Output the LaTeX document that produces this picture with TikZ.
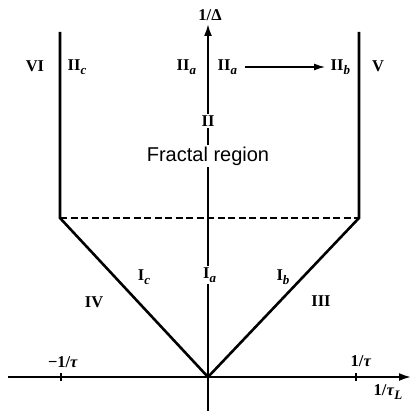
\documentclass[tikz,border=0pt]{standalone}
\usepackage{fontspec}
\setmainfont{Liberation Serif}
\newfontfamily\fracfont{Liberation Sans}
\usetikzlibrary{arrows.meta}
\newcommand{\rsub}[2]{{\bfseries #1}\raisebox{-4pt}{\fontsize{13}{13}\selectfont\bfseries\itshape #2}}
\tikzset{
  lab/.style={font=\fontsize{16.5}{16.5}\selectfont\bfseries, inner sep=0.5pt},
  axislab/.style={lab, fill=white, inner sep=1.5pt},
  axis/.style={line width=2pt, -{Latex[length=12pt,width=8pt]}},
  bound/.style={line width=2.6pt},
  dashline/.style={line width=2.2pt, dash pattern=on 7pt off 3.5pt},
  tick/.style={line width=2pt}
}
\begin{document}
\begin{tikzpicture}[x=1pt,y=-1pt]
\useasboundingbox (0,0) rectangle (411,414);
% key points
\coordinate (O) at (208,377);
\coordinate (xs) at (8,377);
\coordinate (xe) at (411,377);
\coordinate (ys) at (208,411);
\coordinate (ye) at (208,24);
\coordinate (LT) at (60,32);
\coordinate (LB) at (60,218);
\coordinate (RT) at (359,32);
\coordinate (RB) at (359,218);
% boundaries
\draw[bound] (LT) -- (LB) -- (O) -- (RB) -- (RT);
\draw[dashline] (LB) -- (RB);
% axes
\draw[axis] (xs) -- (xe);
\draw[axis] (ys) -- (ye);
% ticks
\coordinate (tl) at (61,377);
\coordinate (tr) at (356,377);
\draw[tick] ([yshift=-4]tl) -- ([yshift=4]tl);
\draw[tick] ([yshift=-4]tr) -- ([yshift=4]tr);
% axis labels
\node[lab] (ylab) at (210,15) {1/Δ};
\node[lab] (mt) at (63,362) {−1/\textit{τ}};
\node[lab] (pt) at (361,361) {1/\textit{τ}};
\node[lab] (xlab) at (388,392) {1/\textit{τ}\raisebox{-4pt}{\fontsize{13}{13}\selectfont\bfseries\itshape L}};
% top labels
\node[lab] (VI) at (35,66) {VI};
\node[lab, anchor=west] (IIc) at (67,67) {\rsub{II}{c}};
\node[lab, anchor=west] (IIa1) at (176,67) {\rsub{II}{a}};
\node[lab, anchor=west] (IIa2) at (217,67) {\rsub{II}{a}};
\node[lab, anchor=west] (IIb) at (330,67) {\rsub{II}{b}};
\node[lab] (V) at (378,66) {V};
\draw[line width=1.3pt, -{Latex[length=11pt,width=7pt]}] (IIa2.east) ++(7,0) coordinate (as) -- ([xshift=-5]IIb.west |- as);
% axis middle labels
\node[axislab] (II) at (208,121) {II};
\node[fill=white, inner sep=1.5pt, font=\fracfont\fontsize{20}{20}\selectfont] (frac) at (208,156) {Fractal region};
\node[axislab, anchor=west, inner xsep=0pt] (Ia) at (203,275) {\rsub{I}{a}};
% side labels
\node[lab] (Ic) at (144,277) {\rsub{I}{c}};
\node[lab] (IV) at (94,302) {IV};
\node[lab] (Ib) at (283,277) {\rsub{I}{b}};
\node[lab] (III) at (321,301) {III};
\end{tikzpicture}
\end{document}
